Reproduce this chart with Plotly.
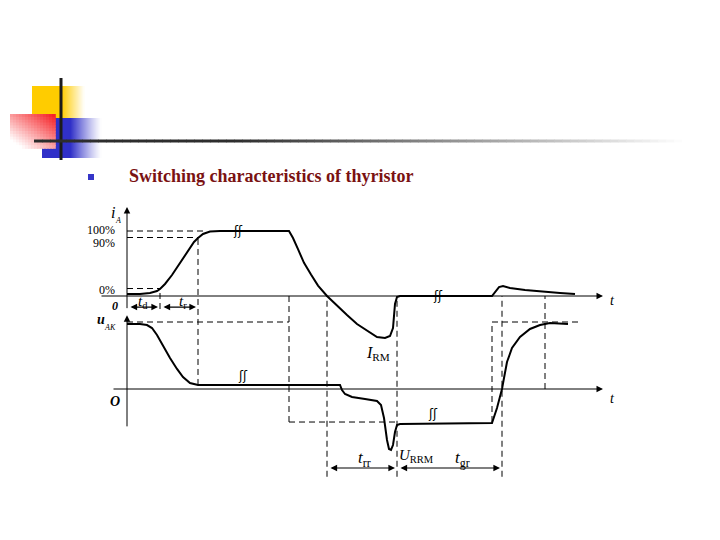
import plotly.graph_objects as go

# ---------------- data ----------------
# time in arbitrary units, t = 0 at the gate trigger
t_iA = [0, 13, 23, 30, 33, 38, 45, 53, 61, 67, 71, 76, 83, 93, 162, 166, 171, 177, 184, 191,
        200, 210, 220, 230, 240, 250, 258, 263, 266, 267, 268, 270, 273, 365, 368, 372, 376,
        383, 398, 418, 433, 448]
# anode current, % of on-state value
i_A = [3.1, 3.1, 4.6, 7.7, 10.8, 18.5, 32.3, 50.8, 70.8, 83.1, 89.2, 95.4, 99.2, 100, 100,
       89.2, 72.0, 51.0, 33.0, 16.0, 0, -15.4, -29.2, -43.1, -53.8, -63.1, -64.6, -61.5,
       -49.2, -30.8, -12.3, -1.5, 0, 0, 6.2, 13.8, 15.4, 12.3, 9.2, 6.2, 4.6, 3.1]

t_uAK = [0, 13, 20, 25, 30, 36, 43, 50, 56, 63, 71, 213, 215, 218, 225, 238, 250, 254, 257,
         260, 262, 264, 266, 268, 270, 273, 365, 370, 375, 377, 380, 385, 393, 403, 413, 423, 441]
# anode-cathode voltage, % of forward blocking voltage
u_AK = [97.0, 97.0, 95.5, 91.0, 80.6, 64.2, 46.3, 29.9, 17.9, 9.0, 6.0, 6.0, -1.5, -7.5,
        -11.9, -14.9, -17.9, -23.9, -43.3, -76.1, -89.6, -91.0, -83.6, -64.2, -53.7, -52.2,
        -50.7, -28.4, 0, 16.4, 40.3, 61.2, 77.6, 89.6, 95.5, 98.5, 97.0]

# characteristic instants
t_d_end, t_r_end = 33, 71
t_off, t_zero, t_rec = 162, 200, 270
t_gate, t_gr_end, t_settle = 365, 375, 418
t_axis_end = 476

# reference levels
iA_levels = [100, 90, 11.5]
iA_level_ends = [80, 71, 33]
iA_level_labels = ["100%", "90%", "0%"]
U_level, U_R_level = 100, -49.3

# ---------------- geometry (layout only) ----------------
W, H = 720, 540
OFF = 8                  # page margin of the browser
X0 = 127 - OFF           # figure pixel of t = 0
I0, IS = 296 - OFF, 0.65  # figure pixel of i_A = 0, pixels per %
U0, US = 389 - OFF, 0.67  # figure pixel of u_AK = 0, pixels per %


def px(x):
    return (x - OFF) / W


def py(y):
    return 1 - (y - OFF) / H


def pix_i(i):
    return I0 + OFF - IS * i


def pix_u(u):
    return U0 + OFF - US * u


fig = go.Figure()
LINE = dict(color="black", width=2)
fig.add_trace(go.Scatter(x=t_iA, y=i_A, mode="lines", line=LINE, yaxis="y"))
fig.add_trace(go.Scatter(x=t_uAK, y=u_AK, mode="lines", line=LINE, yaxis="y2"))

shapes = []
annotations = []
DASH = dict(color="black", width=1, dash="6px,4px")


# ---------- slide decoration ----------
def blend(c, a):
    return "rgb(%d,%d,%d)" % tuple(round(255 - (255 - v) * a) for v in c)


def rect(x0, y0, x1, y1, color):
    shapes.append(dict(type="rect", xref="paper", yref="paper", x0=px(x0), x1=px(x1),
                       y0=py(y1), y1=py(y0), fillcolor=color, line=dict(width=0), layer="below"))


YEL = (255, 204, 0)
rect(32, 86, 61, 118, blend(YEL, 1))
for k in range(61, 84):
    rect(k, 86, k + 1.6, 118, blend(YEL, max(0, 1 - (k - 61) / 23)))
BLU = (48, 48, 200)
rect(42, 118, 70, 158, blend(BLU, 1))
for k in range(70, 101):
    rect(k, 118, k + 1.6, 158, blend(BLU, max(0, 1 - (k - 70) / 31) ** 1.2))
RED = (245, 25, 30)
NX, NY = 15, 12
for gx in range(NX):
    for gy in range(NY):
        uu = (gx + 0.5) / NX
        vv = (gy + 0.5) / NY
        a = max(0.0, min(1.0, 1 - 0.55 * (1 - uu) - 0.6 * vv))
        rect(10 + gx * 3, 114 + gy * 34 / NY, 13.8 + gx * 3, 114 + (gy + 1) * 34 / NY + 0.8, blend(RED, a))

shapes.append(dict(type="line", xref="paper", yref="paper", x0=px(61), x1=px(61),
                   y0=py(78), y1=py(160), line=dict(color="#1c1c1c", width=3), layer="below"))
seg = 8
for x in range(34, 690, seg):
    f = 0 if x < 230 else min(1, (x - 230) / 450)
    g = round(45 + (255 - 45) * f)
    shapes.append(dict(type="line", xref="paper", yref="paper", x0=px(x), x1=px(x + seg + 0.5),
                       y0=py(141), y1=py(141), line=dict(color="rgb(%d,%d,%d)" % (g, g, g), width=3),
                       layer="below"))

# bullet + heading
rect(88, 174, 94, 180, "#3535c8")
annotations.append(dict(text="<b>Switching characteristics of thyristor</b>", xref="paper", yref="paper",
                        x=px(127), y=py(176), xanchor="left", yanchor="middle", showarrow=False,
                        font=dict(family="Liberation Serif", size=18, color="#7a1212")))


# ---------- axes (drawn as arrows) ----------
def arrow(x0, y0, x1, y1, yref, head=2, size=1.3, width=1.0, side="end"):
    annotations.append(dict(x=x1, y=y1, ax=x0, ay=y0, xref="x", yref=yref, axref="x", ayref=yref,
                            showarrow=True, arrowhead=head, startarrowhead=head, arrowsize=size,
                            startarrowsize=size, arrowwidth=width, arrowcolor="black",
                            arrowside=side, text=""))


arrow(-27, 0, t_axis_end, 0, "y")
arrow(0, -21, 0, 137, "y")
arrow(-15, 0, t_axis_end, 0, "y2")
arrow(0, -58, 0, 110, "y2")

# ---------- reference levels ----------
for lv, te in zip(iA_levels, iA_level_ends):
    shapes.append(dict(type="line", xref="x", yref="y", x0=0, x1=te, y0=lv, y1=lv, line=DASH))
shapes.append(dict(type="line", xref="x", yref="y2", x0=0, x1=t_off, y0=U_level, y1=U_level, line=DASH))
shapes.append(dict(type="line", xref="x", yref="y2", x0=t_gate, x1=t_gate + 86, y0=U_level, y1=U_level, line=DASH))
shapes.append(dict(type="line", xref="x", yref="y2", x0=t_off, x1=t_rec, y0=U_R_level, y1=U_R_level, line=DASH))

# vertical guides: (t, top pixel, bottom pixel)
dim_lo_u = -117.9
guides = [
    (t_d_end, pix_i(iA_levels[2]), pix_i(-20)),
    (t_r_end, pix_i(90), pix_u(6)),
    (t_off, pix_i(0), pix_u(U_R_level)),
    (t_zero, pix_i(0), pix_u(-131)),
    (t_rec, pix_i(0), pix_u(-131)),
    (t_gate, pix_u(U_level), pix_u(U_R_level)),
    (t_gr_end, pix_i(0), pix_u(-131)),
    (t_settle, pix_i(0), pix_u(0)),
]
for t, ytop, ybot in guides:
    shapes.append(dict(type="line", xref="x", yref="paper", x0=t, x1=t, y0=py(ybot), y1=py(ytop), line=DASH))

# dimension arrows
dim_up_i = -17
for a, b in [(0, t_d_end), (t_d_end, t_r_end)]:
    arrow(a + 2, dim_up_i, b - 2, dim_up_i, "y", head=2, size=1.1, width=1.2, side="end+start")
for a, b in [(t_zero, t_rec), (t_rec, t_gr_end)]:
    arrow(a + 2, dim_lo_u, b - 2, dim_lo_u, "y2", head=2, size=1.1, width=1.2, side="end+start")

# ---------- labels ----------
SERIF = "Liberation Serif"


def label(text, x, y, size=13, xanchor="center"):
    annotations.append(dict(text=text, xref="paper", yref="paper", x=px(x), y=py(y), xanchor=xanchor,
                            yanchor="middle", showarrow=False, font=dict(family=SERIF, size=size, color="black")))


label("<i>i</i>", 113, 212, 16)
label("<i>A</i>", 118, 221, 8)
for txt, lv, dy in zip(iA_level_labels, iA_levels, [-1, 5, 1]):
    label(txt, 117, pix_i(lv) + dy, 12, xanchor="right")
label("<b><i>0</i></b>", 115, 306, 12)
label("<i>t</i><sub>d</sub>", 143, 302, 15)
label("<i>t</i><sub>r</sub>", 183, 302, 15)
label("<b><i>u</i></b>", 101, 320, 14)
label("<i>AK</i>", 110, 327, 8)
label("<b><i>O</i></b>", 115, 401, 14)
label("<i>t</i>", 612, 300, 14)
label("<i>t</i>", 612, 398, 14)
label("<i>I</i><sub>RM</sub>", 378, 353, 16)
label("<i>t</i><sub>rr</sub>", 364, 459, 17)
label("<i>U</i><sub>RRM</sub>", 416, 456, 15)
label("<i>t</i><sub>gr</sub>", 462, 459, 17)

# break marks
for t, yp in [(111, pix_i(100)), (311, pix_i(0)), (116, pix_u(6)), (306, pix_u(-50.7))]:
    annotations.append(dict(text="ʃʃ", xref="x", yref="paper", x=t, y=py(yp), showarrow=False,
                            font=dict(family="DejaVu Sans", size=12, color="black")))

fig.update_layout(
    width=W, height=H, margin=dict(l=0, r=0, t=0, b=0),
    paper_bgcolor="white", plot_bgcolor="white", showlegend=False,
    xaxis=dict(range=[-X0, W - X0], visible=False, domain=[0, 1]),
    yaxis=dict(range=[(I0 - H) / IS, I0 / IS], visible=False, domain=[0, 1]),
    yaxis2=dict(range=[(U0 - H) / US, U0 / US], visible=False, overlaying="y"),
    shapes=shapes, annotations=annotations,
)
fig.write_html("out.html")
